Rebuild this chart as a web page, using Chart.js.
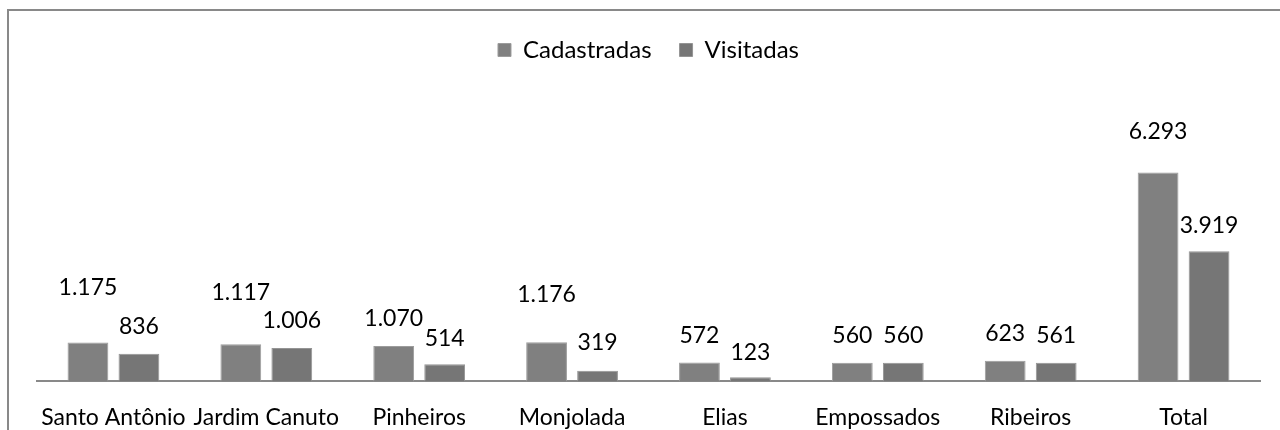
<!DOCTYPE html>
<html>
<head>
<meta charset="utf-8">
<script src="https://cdn.jsdelivr.net/npm/chart.js@4/dist/chart.umd.min.js"></script>
<style>
    body { margin: 0; background: #fff; overflow: hidden; }
    #wrap { position: relative; width: 1280px; height: 430px; overflow: hidden; }
    #frame {
        position: absolute; left: 7px; top: 9px; width: 1400px; height: 600px;
        border-left: 2px solid #898989; border-top: 2px solid #898989;
    }
    #chart { position: absolute; left: 0; top: 0; }
</style>
</head>
<body>
<div id="wrap">
    <div id="frame"></div>
    <canvas id="chart" width="1280" height="453"></canvas>
</div>
<script>
// Dados do gráfico
const bairros = ["Santo Antônio", "Jardim Canuto", "Pinheiros", "Monjolada", "Elias", "Empossados", "Ribeiros", "Total"];
const cadastradas = [1175, 1117, 1070, 1176, 572, 560, 623, 6293];
const visitadas = [836, 1006, 514, 319, 123, 560, 561, 3919];

// Distância (px) do rótulo até o topo da barra
const offsetCad = [55, 52, 27, 48, 27, 27, 27, 41];
const offsetVis = [27, 27, 26, 28, 25, 27, 27, 26];

const fonte = "Lato, 'Open Sans', sans-serif";

// Formata no padrão brasileiro: 1.175
function formatar(v) {
    return String(v).replace(/\B(?=(\d{3})+(?!\d))/g, ".");
}

// Plugin para desenhar os valores acima das barras
const rotulos = {
    id: "rotulos",
    afterDatasetsDraw(chart) {
        const ctx = chart.ctx;
        ctx.save();
        ctx.font = "23px " + fonte;
        ctx.fillStyle = "#000";
        ctx.textAlign = "center";
        ctx.textBaseline = "middle";
        const offsets = [offsetCad, offsetVis];
        chart.data.datasets.forEach((ds, i) => {
            chart.getDatasetMeta(i).data.forEach((bar, j) => {
                ctx.fillText(formatar(ds.data[j]), bar.x, bar.y - offsets[i][j]);
            });
        });
        ctx.restore();
    }
};

const ctx = document.getElementById("chart").getContext("2d");
const grafico = new Chart(ctx, {
    type: "bar",
    data: {
        labels: bairros,
        datasets: [{
            label: "Cadastradas",
            data: cadastradas,
            backgroundColor: "#808080",
            borderColor: "#9c9c9c",
            borderWidth: 1
        }, {
            label: "Visitadas",
            data: visitadas,
            backgroundColor: "#767676",
            borderColor: "#949494",
            borderWidth: 1
        }]
    },
    options: {
        responsive: false,
        animation: false,
        categoryPercentage: 0.667,
        barPercentage: 0.8,
        layout: { padding: { left: 37, right: 20, top: 10, bottom: 0 } },
        plugins: {
            legend: {
                position: "top",
                labels: {
                    font: { family: fonte, size: 24 },
                    color: "#000",
                    boxWidth: 13,
                    boxHeight: 13,
                    padding: 28
                }
            },
            tooltip: { enabled: false }
        },
        scales: {
            x: {
                grid: { display: false, drawTicks: false },
                border: { color: "#898989", width: 2 },
                ticks: {
                    font: { family: fonte, size: 23 },
                    color: "#000",
                    autoSkip: false,
                    maxRotation: 0,
                    padding: 22
                }
            },
            y: {
                display: false,
                min: 0,
                max: 9320
            }
        }
    },
    plugins: [rotulos]
});
</script>
</body>
</html>
